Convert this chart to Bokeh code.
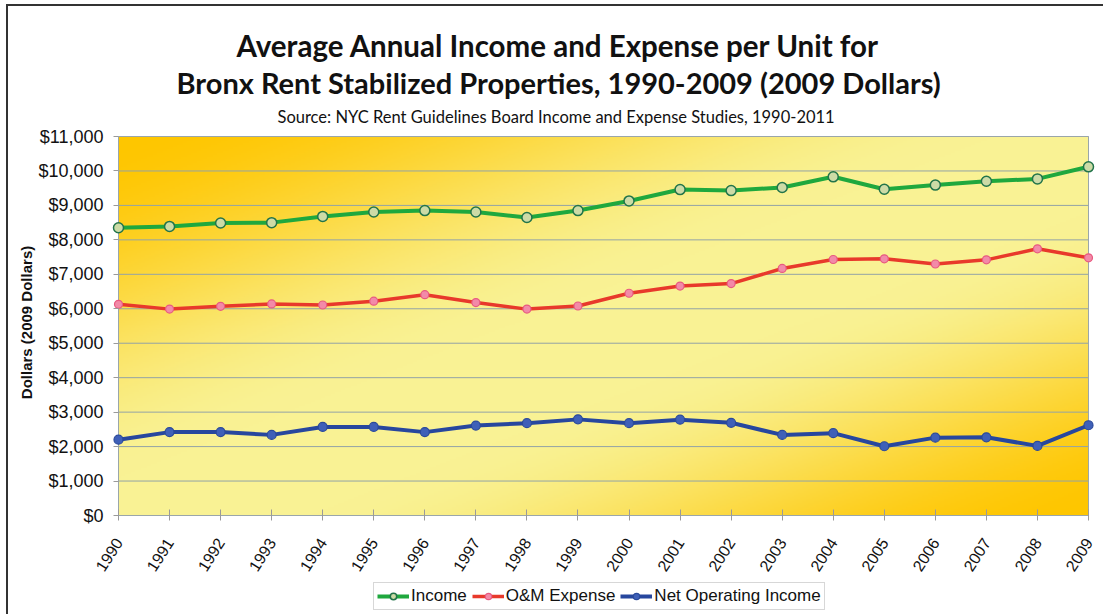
import numpy as np
from bokeh.plotting import figure
from bokeh.models import FixedTicker, NumeralTickFormatter, Label, Legend, LegendItem, Range1d
from bokeh.embed import file_html
from bokeh.resources import INLINE

# ---------------- data ----------------
years = list(range(1990, 2010))
income = [8350, 8390, 8490, 8500, 8680, 8810, 8850, 8810, 8650, 8850,
          9130, 9460, 9430, 9520, 9830, 9470, 9590, 9700, 9770, 10120]
om_expense = [6130, 5990, 6070, 6140, 6110, 6220, 6410, 6180, 5990, 6080,
              6450, 6660, 6730, 7170, 7430, 7450, 7300, 7420, 7740, 7480]
net_operating_income = [2200, 2420, 2420, 2340, 2570, 2570, 2420, 2610, 2680, 2790,
                        2680, 2780, 2690, 2340, 2390, 2010, 2260, 2270, 2020, 2620]
y_ticks = list(range(0, 11001, 1000))
series_names = ["Income", "O&M Expense", "Net Operating Income"]
title_line1 = "Average Annual Income and Expense per Unit for"
title_line2 = "Bronx Rent Stabilized Properties, 1990-2009 (2009 Dollars)"
subtitle = "Source: NYC Rent Guidelines Board Income and Expense Studies, 1990-2011"
y_axis_title = "Dollars (2009 Dollars)"

# ---------------- layout ----------------
W, H = 1103, 614
FRAME_L, FRAME_R, FRAME_T = 10, 1096, 30            # canvas px of the plotting frame
PLOT_L, PLOT_R, PLOT_T, PLOT_B = 118, 1088, 136, 515  # px of the chart box
x0, x1 = years[0], years[-1]
y0, y1 = y_ticks[0], y_ticks[-1]
xs = (x1 - x0) / (PLOT_R - PLOT_L)
ys = (y1 - y0) / (PLOT_B - PLOT_T)
x_range = Range1d(x0 - (PLOT_L - FRAME_L) * xs, x1 + (FRAME_R - PLOT_R) * xs)
y_range = Range1d(y0 - (H - PLOT_B) * ys, y1 + (PLOT_T - FRAME_T) * ys)

p = figure(width=W, height=H, output_backend="svg", toolbar_location=None,
           x_range=x_range, y_range=y_range,
           min_border_left=FRAME_L, min_border_right=W - FRAME_R,
           min_border_top=FRAME_T, min_border_bottom=0)
p.styles = {"background": "linear-gradient(#333333,#333333) 6px 4px / 2px 100% no-repeat, "
                          "linear-gradient(#333333,#333333) 6px 4px / 100% 2px no-repeat, white"}
p.background_fill_alpha = 0
p.border_fill_alpha = 0
p.outline_line_color = None

# gradient background (styling only)
rows, cols = 190, 485
u = np.linspace(0, 1, cols)[None, :]
v = (1 - np.linspace(0, 1, rows))[:, None]  # 0 at top
t = (u + v) / 2.0
gold = np.array([255, 198, 0], dtype=float)
pale = np.array([249, 242, 148], dtype=float)
def smooth(a):
    a = np.clip(a, 0, 1)
    return a * a * (3 - 2 * a)
w = np.where(t < 0.45, 1 - smooth(t / 0.45), np.where(t > 0.6, smooth((t - 0.6) / 0.4), 0.0))
rgb = pale[None, None, :] * (1 - w[..., None]) + gold[None, None, :] * w[..., None]
img = np.empty((rows, cols), dtype=np.uint32)
view = img.view(dtype=np.uint8).reshape((rows, cols, 4))
view[..., 0] = rgb[..., 0].astype(np.uint8)
view[..., 1] = rgb[..., 1].astype(np.uint8)
view[..., 2] = rgb[..., 2].astype(np.uint8)
view[..., 3] = 255
p.image_rgba(image=[img], x=x0, y=y0, dw=x1 - x0, dh=y1 - y0, level="image")

# grid lines limited to the chart box
p.xgrid.visible = False
p.ygrid.visible = False
p.segment(x0=[x0] * len(y_ticks), x1=[x1] * len(y_ticks), y0=y_ticks, y1=y_ticks,
          line_color="#93a3a6", line_width=1, level="underlay")

# chart box border
p.quad(left=[x0], right=[x1], bottom=[y0], top=[y1], fill_color=None,
       line_color="#9aa6aa", line_width=1)

# axes (pinned to the chart box)
p.yaxis.ticker = FixedTicker(ticks=y_ticks)
p.yaxis.formatter = NumeralTickFormatter(format="$0,0")
p.yaxis.fixed_location = x0
p.xaxis.ticker = FixedTicker(ticks=years)
p.xaxis.fixed_location = y0
for ax in (p.xaxis[0], p.yaxis[0]):
    ax.axis_line_color = None
    ax.major_tick_line_color = "#9a9a9a"
    ax.minor_tick_line_color = None
    ax.major_label_text_color = "#111111"
    ax.major_label_text_font = "Liberation Sans"
p.yaxis.major_tick_in = 0
p.yaxis.major_tick_out = 5
p.yaxis.major_label_standoff = 10
p.yaxis.major_label_text_font_size = "18px"
p.yaxis.axis_label = y_axis_title
p.yaxis.axis_label_text_font = "Liberation Sans"
p.yaxis.axis_label_text_font_style = "bold"
p.yaxis.axis_label_text_font_size = "15px"
p.yaxis.axis_label_text_color = "#111111"
p.yaxis.axis_label_standoff = 0
p.xaxis.major_tick_in = 6
p.xaxis.major_tick_out = 5
p.xaxis.major_label_standoff = 19
p.xaxis.major_label_text_font_size = "16px"
p.xaxis.major_label_orientation = 1.0

# series
r_inc_l = p.line(years, income, line_color="#1fa83e", line_width=4)
r_inc_m = p.scatter(years, income, size=10, fill_color="#cddba6", line_color="#22744a", line_width=1.5)
r_om_l = p.line(years, om_expense, line_color="#e8392b", line_width=3.5)
r_om_m = p.scatter(years, om_expense, size=8, fill_color="#f28aa8", line_color="#e85a80", line_width=1.2)
r_noi_l = p.line(years, net_operating_income, line_color="#27479e", line_width=4)
r_noi_m = p.scatter(years, net_operating_income, size=9, fill_color="#3f60b8", line_color="#2b4a9b", line_width=1.2)

legend = Legend(items=[
    LegendItem(label=series_names[0], renderers=[r_inc_l, r_inc_m]),
    LegendItem(label=series_names[1], renderers=[r_om_l, r_om_m]),
    LegendItem(label=series_names[2], renderers=[r_noi_l, r_noi_m]),
], orientation="horizontal", location=(373 - FRAME_L, 4))
legend.label_text_font = "Liberation Sans"
legend.label_text_font_size = "17px"
legend.label_text_color = "#111111"
legend.label_standoff = 2
legend.glyph_width = 32
legend.glyph_height = 16
legend.spacing = 5
legend.padding = 3
legend.margin = 0
legend.border_line_color = "#b0b0b0"
legend.background_fill_color = "white"
legend.background_fill_alpha = 1
p.add_layout(legend, "center")

# titles (screen px from the frame's bottom-left)
for txt, lx, base, size, style in [(title_line1, 236, 45, "29.5px", "bold"),
                                   (title_line2, 176, 82, "29px", "bold"),
                                   (subtitle, 277, 116.5, "16.5px", "normal")]:
    p.add_layout(Label(x=lx - FRAME_L, y=H - base, x_units="screen", y_units="screen", text=txt,
                       text_font="Lato", text_font_style=style, text_font_size=size,
                       text_align="left", text_baseline="alphabetic", text_color="#111111"))

open("out.html", "w").write(file_html(p, INLINE))
